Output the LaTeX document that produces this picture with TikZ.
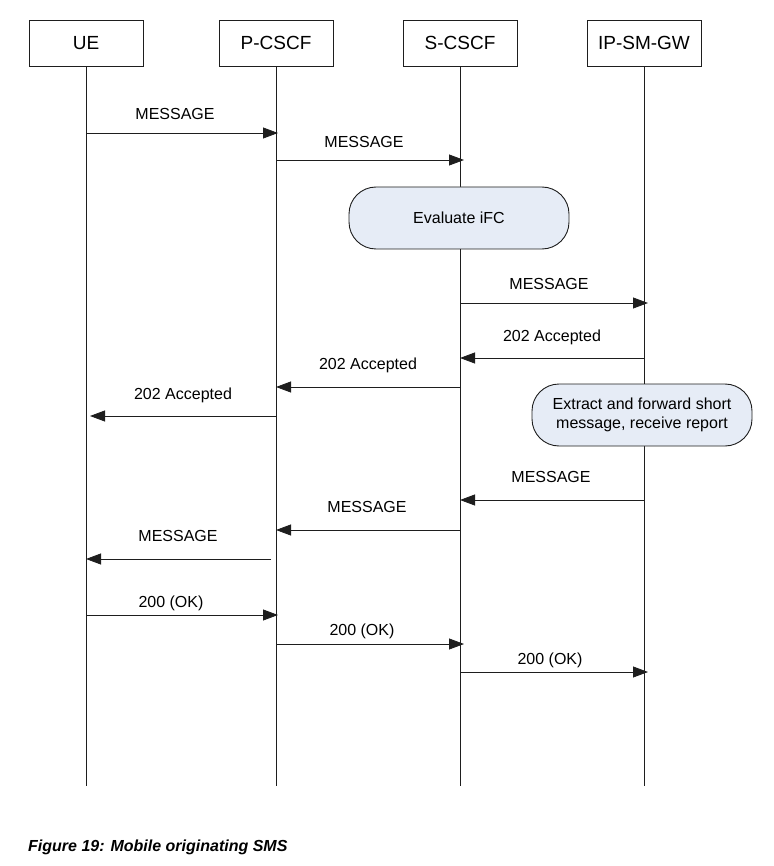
\documentclass[tikz,border=0pt]{standalone}
\usepackage{fontspec}
\setmainfont{Liberation Sans}
\usetikzlibrary{arrows.meta}
\definecolor{boxfill}{RGB}{230,236,246}
\definecolor{ink}{RGB}{30,30,30}
\begin{document}
\begin{tikzpicture}[x=1pt,y=-1pt,
  entity/.style={draw=ink, line width=0.9pt, minimum width=114pt, minimum height=46pt, inner sep=0pt, font=\fontsize{19}{22}\selectfont},
  life/.style={draw=ink, line width=0.9pt},
  msg/.style={draw=ink, line width=0.8pt, -{Triangle[length=15pt,width=11pt]}},
  lbl/.style={anchor=base, inner sep=0pt, font=\fontsize{16}{19}\selectfont},
  proc/.style={draw=ink, fill=boxfill, rounded corners=27pt, minimum width=220pt, minimum height=62pt, align=center, inner sep=0pt, font=\fontsize{16}{19}\selectfont, line width=0.9pt}
]
\useasboundingbox (0,0) rectangle (773,866);
% entities
\node[entity] (ue) at (86,43) {UE};
\node[entity] (pc) at (276,43) {P-CSCF};
\node[entity] (sc) at (460,43) {S-CSCF};
\node[entity] (gw) at (644,43) {IP-SM-GW};
% lifeline ends
\coordinate (ueE) at (86,786);
\coordinate (pcE) at (276,786);
\coordinate (scE) at (460,786);
\coordinate (gwE) at (644,786);
\draw[life] (ue) -- (ueE);
\draw[life] (pc) -- (pcE);
\draw[life] (sc) -- (scE);
\draw[life] (gw) -- (gwE);
% process boxes
\node[proc] (ifc) at (459,218) {Evaluate iFC};
\node[proc] (ext) at (642,415) {Extract and forward short\\message, receive report};
% messages
\draw[msg, shorten >=-2pt] (ue |- 0,133) -- (pc |- 0,133);
\node[lbl] (l1) at (175,120) {MESSAGE};
\draw[msg, shorten >=-4pt] (pc |- 0,160) -- (sc |- 0,160);
\node[lbl] (l2) at (364,148) {MESSAGE};
\draw[msg, shorten >=-4pt] (sc |- 0,303) -- (gw |- 0,303);
\node[lbl] (l4) at (549,290) {MESSAGE};
\draw[msg] (gw |- 0,358) -- (sc |- 0,358);
\node[lbl] (l5) at (552,341) {202 Accepted};
\draw[msg] (sc |- 0,387) -- (pc |- 0,387);
\node[lbl] (l6) at (368,369) {202 Accepted};
\draw[msg, shorten >=4pt] (pc |- 0,416) -- (ue |- 0,416);
\node[lbl] (l7) at (183,399) {202 Accepted};
\draw[msg] (gw |- 0,500) -- (sc |- 0,500);
\node[lbl] (l9) at (551,482) {MESSAGE};
\draw[msg] (sc |- 0,530) -- (pc |- 0,530);
\node[lbl] (l10) at (367,512) {MESSAGE};
\draw[msg, shorten <=5pt, shorten >=0pt] (pc |- 0,559) -- (ue |- 0,559);
\node[lbl] (l11) at (178,541) {MESSAGE};
\draw[msg, shorten >=-2pt] (ue |- 0,615) -- (pc |- 0,615);
\node[lbl] (l12) at (171,607) {200 (OK)};
\draw[msg, shorten >=-4pt] (pc |- 0,644) -- (sc |- 0,644);
\node[lbl] (l13) at (362,635) {200 (OK)};
\draw[msg, shorten >=-4pt] (sc |- 0,672) -- (gw |- 0,672);
\node[lbl] (l14) at (550,664) {200 (OK)};
% caption
\node[anchor=base west, inner sep=0pt, font=\fontsize{16}{19}\selectfont\bfseries\itshape] (cap) at (28,851) {Figure 19: Mobile originating SMS};
\end{tikzpicture}
\end{document}
